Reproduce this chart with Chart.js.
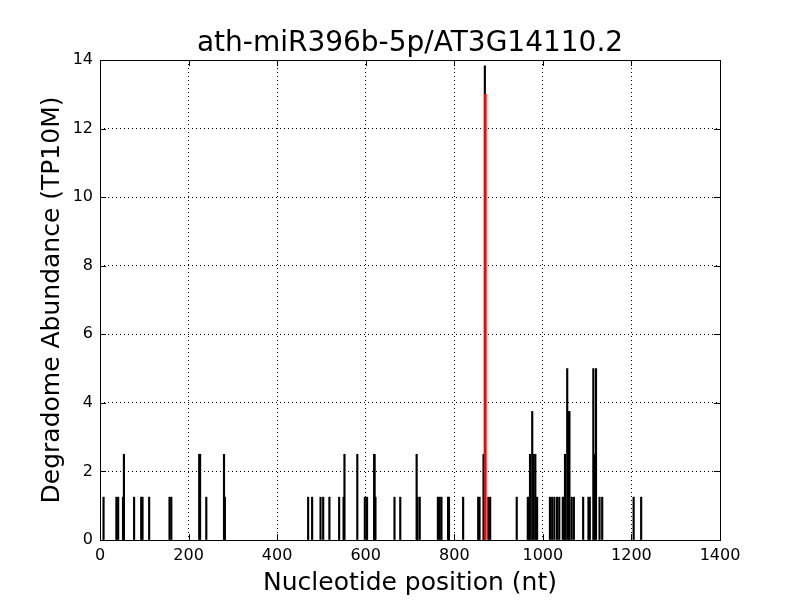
<!DOCTYPE html>
<html>
<head>
<meta charset="utf-8">
<script src="https://cdn.jsdelivr.net/npm/chart.js@4"></script>
<style>
  html, body { margin: 0; padding: 0; background: #fff; }
  #wrap { width: 800px; height: 600px; }
</style>
</head>
<body>
<div id="wrap"><canvas id="chart" width="800" height="600"></canvas></div>
<script>
// Degradome reads per nucleotide position
const positions = [
    8, 37, 41, 52, 54, 77, 93, 96, 111, 157, 161, 224, 226, 240, 280, 282,
    470, 479, 498, 504, 518, 540, 550, 552, 581, 598, 603, 619, 620, 622, 665, 678,
    715, 717, 722, 763, 767, 771, 786, 788, 820, 854, 857, 866, 869, 877, 881,
    941, 966, 969, 971, 976, 979, 983, 987,
    1016, 1021, 1026, 1032, 1037, 1045, 1048, 1050, 1055, 1058, 1060, 1065, 1070,
    1091, 1103, 1106, 1114, 1117, 1120, 1128, 1134, 1205, 1222
];
const abundance = [
    1.25, 1.25, 1.25, 1.25, 2.5, 1.25, 1.25, 1.25, 1.25, 1.25, 1.25, 2.5, 2.5, 1.25, 2.5, 1.25,
    1.25, 1.25, 1.25, 1.25, 1.25, 1.25, 1.25, 2.5, 2.5, 1.25, 1.25, 2.5, 2.5, 1.25, 1.25, 1.25,
    2.5, 1.25, 1.25, 1.25, 1.25, 1.25, 1.25, 1.25, 1.25, 1.25, 1.25, 2.5, 13.83, 1.25, 1.25,
    1.25, 1.25, 1.25, 2.5, 3.75, 2.5, 2.5, 1.25,
    1.25, 1.25, 1.25, 1.25, 1.25, 1.25, 1.25, 2.5, 5, 3.75, 3.75, 1.25, 1.25,
    1.25, 1.25, 1.25, 5, 2.5, 5, 1.25, 1.25, 1.25, 1.25
];
// predicted cleavage site
const sitePositions = [870];
const siteAbundance = [13];

const xTicks = [0, 200, 400, 600, 800, 1000, 1200, 1400];
const yTicks = [0, 2, 4, 6, 8, 10, 12, 14];
const titleText = "ath-miR396b-5p/AT3G14110.2";

const FONT = "'DejaVu Sans', sans-serif";

// matplotlib-style frame with inward ticks, title centred over the axes
const framePlugin = {
    id: "frame",
    afterDraw(chart) {
        const { ctx, chartArea: a, scales } = chart;
        const len = 6;
        ctx.save();
        ctx.strokeStyle = "#000";
        ctx.lineWidth = 1;
        ctx.beginPath();
        xTicks.forEach(v => {
            const x = Math.round(scales.x.getPixelForValue(v)) + 0.5;
            ctx.moveTo(x, a.bottom); ctx.lineTo(x, a.bottom - len);
            ctx.moveTo(x, a.top); ctx.lineTo(x, a.top + len);
        });
        yTicks.forEach(v => {
            const y = Math.round(scales.y.getPixelForValue(v)) + 0.5;
            ctx.moveTo(a.left, y); ctx.lineTo(a.left + len, y);
            ctx.moveTo(a.right, y); ctx.lineTo(a.right - len, y);
        });
        ctx.stroke();
        ctx.strokeRect(Math.round(a.left) + 0.5, Math.round(a.top) + 0.5,
            Math.round(a.right - a.left), Math.round(a.bottom - a.top));

        ctx.fillStyle = "#000";
        ctx.font = "28px " + FONT;
        ctx.textAlign = "center";
        ctx.textBaseline = "middle";
        ctx.fillText(titleText, (a.left + a.right) / 2, 44);
        ctx.restore();
    }
};

const toPoints = (xs, ys) => xs.map((x, i) => ({ x: x, y: ys[i] }));

new Chart(document.getElementById("chart").getContext("2d"), {
    type: "bar",
    data: {
        datasets: [
            {
                data: toPoints(positions, abundance),
                backgroundColor: "#000",
                barThickness: 1.5,
                grouped: false,
                order: 2
            },
            {
                data: toPoints(sitePositions, siteAbundance),
                backgroundColor: "#ff0000",
                barThickness: 2,
                grouped: false,
                order: 1
            }
        ]
    },
    options: {
        responsive: false,
        animation: false,
        devicePixelRatio: 1,
        layout: { padding: { left: 0, top: 60, right: 80, bottom: 0 } },
        plugins: {
            legend: { display: false },
            tooltip: { enabled: false },
            title: { display: false }
        },
        scales: {
            x: {
                type: "linear",
                min: 0,
                max: 1400,
                offset: false,
                afterFit(scale) { scale.height = 60; },
                afterBuildTicks(scale) { scale.ticks = xTicks.map(v => ({ value: v })); },
                ticks: {
                    color: "#000",
                    padding: 6,
                    maxRotation: 0,
                    font: { family: FONT, size: 16 },
                    callback: v => String(v)
                },
                grid: {
                    color: "#000",
                    lineWidth: 1,
                    offset: false,
                    drawTicks: false
                },
                border: { display: false, dash: [1, 3] },
                title: {
                    display: true,
                    text: "Nucleotide position (nt)",
                    color: "#000",
                    font: { family: FONT, size: 25 },
                    padding: { top: 0, bottom: 2 }
                }
            },
            y: {
                min: 0,
                max: 14,
                afterFit(scale) { scale.width = 100; },
                afterBuildTicks(scale) { scale.ticks = yTicks.map(v => ({ value: v })); },
                ticks: {
                    color: "#000",
                    padding: 7,
                    font: { family: FONT, size: 16 },
                    callback: v => String(v)
                },
                grid: {
                    color: "#000",
                    lineWidth: 1,
                    drawTicks: false
                },
                border: { display: false, dash: [1, 3] },
                title: {
                    display: true,
                    text: "Degradome Abundance (TP10M)",
                    color: "#000",
                    font: { family: FONT, size: 25 },
                    padding: { top: 37, bottom: 0 }
                }
            }
        }
    },
    plugins: [framePlugin]
});
</script>
</body>
</html>
